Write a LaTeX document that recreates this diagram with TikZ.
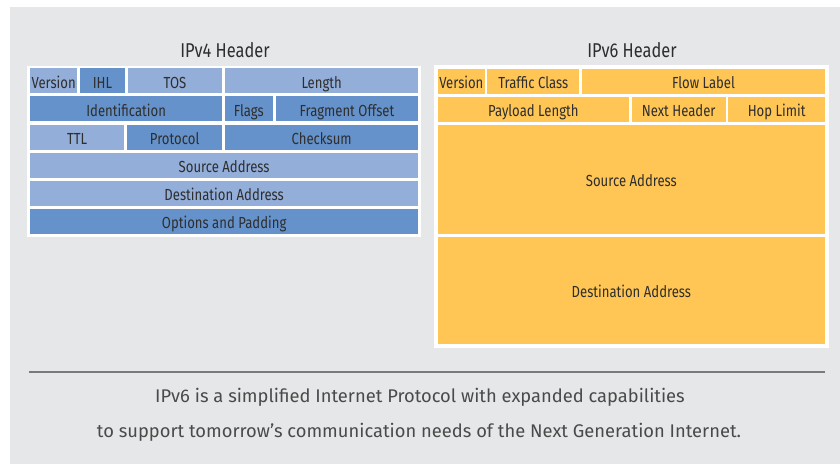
\documentclass[tikz,border=0pt]{standalone}
\usepackage{fontspec}
\setmainfont{Fira Sans}
\newfontfamily\cellfont{Fira Sans}[FakeStretch=0.82]
\newfontfamily\capfont{Fira Sans}
\usetikzlibrary{positioning}

\definecolor{bggray}{HTML}{E6E7E8}
\definecolor{bluelight}{HTML}{93AED9}
\definecolor{bluedark}{HTML}{6592CA}
\definecolor{yellowcell}{HTML}{FFC655}
\definecolor{celltext}{HTML}{2E2E2E}
\definecolor{captext}{HTML}{4A4A4A}
\definecolor{rulegray}{HTML}{7A7A7A}

\begin{document}
\begin{tikzpicture}[
    x=0.75pt, y=-0.75pt,
    font=\cellfont\fontsize{12pt}{14pt}\selectfont
]
\tikzset{
    framebox/.style = {rectangle, fill=white, inner sep=0pt},
    cellbase/.style = {rectangle, inner sep=0pt, minimum height=18.75pt,
                       text height=10.8pt, text depth=0pt, text=celltext},
    cellL/.style = {cellbase, fill=bluelight},
    cellD/.style = {cellbase, fill=bluedark},
    cellY/.style = {cellbase, fill=yellowcell},
    headtitle/.style = {anchor=base, text=celltext,
                        font=\cellfont\fontsize{15pt}{18pt}\selectfont},
    captionline/.style = {anchor=base, text=captext,
                          font=\capfont\fontsize{13.75pt}{16pt}\selectfont}
}
\useasboundingbox (0,0) rectangle (840,464);
\fill[white] (0,0) rectangle (840,464);
\fill[bggray] (10,7) rectangle (840,464);

% IPv4 header
\node[headtitle] at (225,57.3) (v4title) {IPv4 Header};
\node[framebox, minimum width=295.3pt, minimum height=128.25pt] at (224.15,151.2) (v4box) {};
\node[cellL, minimum width=35.5pt] at (53.65,80.8) (v4ver) {Version};
\node[cellD, minimum width=33.75pt] at (102.5,80.8) (v4ihl) {IHL};
\node[cellL, minimum width=70.95pt] at (175,80.8) (v4tos) {TOS};
\node[cellL, minimum width=145pt] at (321.65,80.8) (v4len) {Length};
\node[cellD, minimum width=144.2pt] at (126.15,108.9) (v4id) {Identification};
\node[cellD, minimum width=35.8pt] at (248.85,108.9) (v4flags) {Flags};
\node[cellD, minimum width=106.95pt] at (347,108.9) (v4frag) {Fragment Offset};
\node[cellL, minimum width=70.7pt] at (77.15,137) (v4ttl) {TTL};
\node[cellD, minimum width=71.5pt] at (174.65,137) (v4proto) {Protocol};
\node[cellD, minimum width=145pt] at (321.65,137) (v4sum) {Checksum};
\node[cellL, minimum width=291.2pt] at (224.15,165.2) (v4src) {Source Address};
\node[cellL, minimum width=291.2pt] at (224.15,193.4) (v4dst) {Destination Address};
\node[cellD, minimum width=291.2pt] at (224.15,221.5) (v4opt) {Options and Padding};

% IPv6 header
\node[headtitle] at (632,57.3) (v6title) {IPv6 Header};
\node[framebox, minimum width=296.25pt, minimum height=212pt] at (631.5,206.35) (v6box) {};
\node[cellY, minimum width=35.5pt] at (461.35,81.15) (v6ver) {Version};
\node[cellY, minimum width=69pt] at (533.3,81.15) (v6class) {Traffic Class};
\node[cellY, minimum width=182.25pt] at (703.5,81.15) (v6flow) {Flow Label};
\node[cellY, minimum width=143.5pt] at (533.35,109) (v6pay) {Payload Length};
\node[cellY, minimum width=70.5pt] at (678.7,109) (v6next) {Next Header};
\node[cellY, minimum width=72.5pt] at (776.65,109) (v6hop) {Hop Limit};
\node[cellY, minimum width=290.5pt, minimum height=82pt] at (631.35,179.35) (v6src) {Source Address};
\node[cellY, minimum width=290.5pt, minimum height=80.7pt] at (631.35,290.5) (v6dst) {Destination Address};

% caption
\coordinate (ruleL) at (29.3,372);
\coordinate (ruleR) at (825,372);
\draw[rulegray, line width=1.1pt] (ruleL) -- (ruleR);
\node[captionline] at (420,402.3) (cap1) {IPv6 is a simplified Internet Protocol with expanded capabilities};
\node[captionline] at (419,437.3) (cap2) {to support tomorrow’s communication needs of the Next Generation Internet.};
\end{tikzpicture}
\end{document}
